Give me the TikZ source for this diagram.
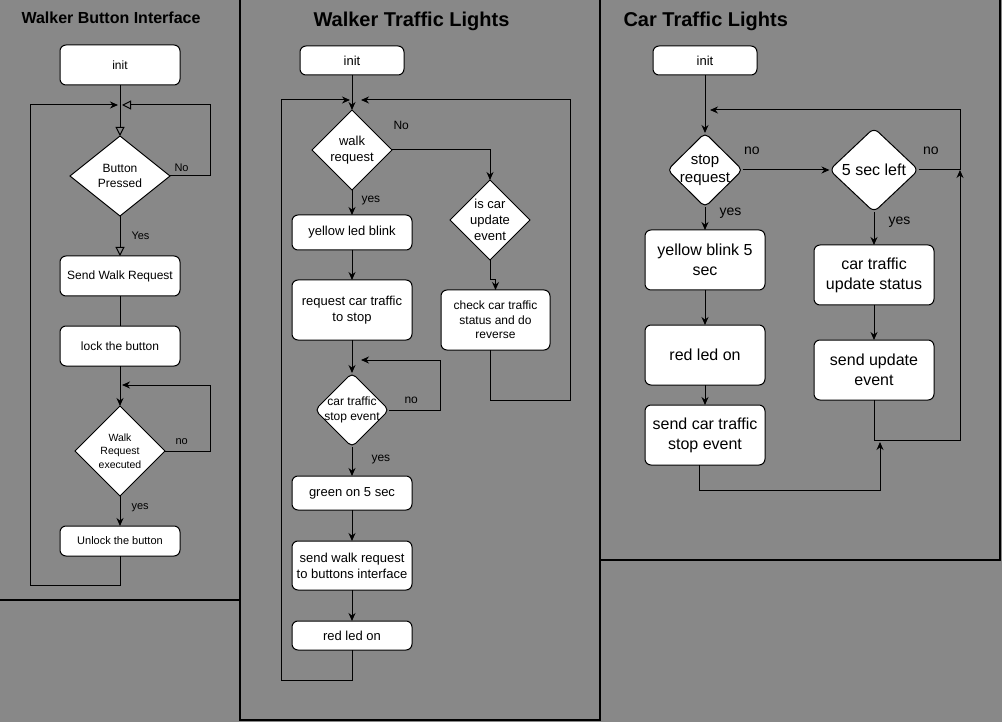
\documentclass[tikz,border=0pt]{standalone}
\usepackage{fontspec}
\setmainfont{Liberation Sans}
\usetikzlibrary{shapes, arrows.meta, positioning}
\definecolor{lanegray}{RGB}{136,136,136}
\newcommand{\fsz}[2]{\fontsize{#1}{#2}\selectfont}

\begin{document}
\begin{tikzpicture}[
    x=1pt, y=-1pt, line width=1pt,
    node distance=30pt,
    box/.style={draw, rectangle, fill=white, rounded corners=6pt, minimum width=120pt, minimum height=40pt, align=center, inner sep=2pt, outer sep=0pt, font=\fsz{12}{14}},
    decision/.style={draw, diamond, aspect=1, fill=white, align=center, inner sep=0pt, outer sep=0pt, font=\fsz{12}{15}},
    arrow/.style={-{Stealth[length=8pt,width=7pt]}},
    openarrow/.style={-{Triangle[open,length=9pt,width=9pt]}},
    note/.style={inner sep=0pt, align=center, font=\fsz{12}{14}},
    lanetitle/.style={anchor=west, inner sep=0pt, font=\bfseries\fsz{20}{24}},
    lane/.style={line width=1.5pt}
]

\fill[lanegray] (0,0) rectangle (1002,722);
\useasboundingbox (0,0) rectangle (1002,722);

% lanes
\draw[lane] (240,0) -- (240,720) -- (600,720) -- (600,0);
\draw[lane] (0,600) -- (240,600);
\draw[lane] (600,560) -- (1000,560) -- (1000,0);

\node[lanetitle, font=\bfseries\fsz{16}{19}] (tbutton) at (21,18) {Walker Button Interface};
\node[lanetitle] (twalker) at (313,21) {Walker Traffic Lights};
\node[lanetitle] (tcar) at (623,21) {Car Traffic Lights};

% walker button interface
\node[box] (binit) at (120,65) {init};
\node[decision, minimum width=100pt, minimum height=80pt, below=51pt of binit] (bpress) {Button\\Pressed};
\node[box, below=40pt of bpress] (bsend) {Send Walk Request};
\node[box, below=30pt of bsend] (block) {lock the button};
\node[decision, minimum width=90pt, minimum height=90pt, font=\fsz{10.5}{13.5}, below=40pt of block] (bexec) {Walk\\Request\\executed};
\node[box, minimum height=30pt, font=\fsz{11}{13}, below=30pt of bexec] (bunlock) {Unlock the button};

\coordinate (bjoin) at (120,105);
\coordinate (bjoin2) at (120,385);
\coordinate (bback) at (30,585);

\draw[openarrow] (binit) -- (bpress);
\draw[openarrow] (bpress.east) -- ++(40,0) |- ([xshift=2pt]bjoin);
\draw[openarrow] (bpress) -- (bsend);
\draw (bsend) -- (block);
\draw[arrow] (block) -- (bexec);
\draw[arrow] (bexec.east) -- ++(45,0) |- ([xshift=2pt]bjoin2);
\draw[arrow] (bexec) -- (bunlock);
\draw[arrow] (bunlock) |- (bback) |- ([xshift=-2pt]bjoin);

\node[note, font=\fsz{11}{13}, above right=4pt and 4pt of bpress.east] (bno) {No};
\node[note, font=\fsz{11}{13}, below right=15pt and 11pt of bpress.south] (byes) {Yes};
\node[note, font=\fsz{11}{13}, above right=6pt and 10pt of bexec.east] (bno2) {no};
\node[note, font=\fsz{11}{13}, below right=7pt and 11pt of bexec.south] (byes2) {yes};

% walker traffic lights
\node[box, minimum width=104pt, minimum height=29pt, font=\fsz{13}{16}] (winit) at (352,60.5) {init};
\node[decision, minimum width=80pt, minimum height=80pt, font=\fsz{13}{16}, below=35pt of winit] (wreq) {walk\\request};
\node[box, minimum height=35pt, font=\fsz{13}{16}, below=25pt of wreq] (wyellow) {yellow led blink};
\node[box, minimum height=60pt, font=\fsz{13}{16}, below=30pt of wyellow] (wstop) {request car traffic\\to stop};
\node[decision, rounded corners=5pt, minimum width=74pt, minimum height=74pt, inner sep=-4pt, below=33pt of wstop] (wcarstop) {car traffic\\stop event};
\node[box, minimum height=34pt, font=\fsz{13}{16}, below=29pt of wcarstop] (wgreen) {green on 5 sec};
\node[box, minimum height=49pt, font=\fsz{13}{16}, below=31pt of wgreen] (wsend) {send walk request\\to buttons interface};
\node[box, minimum height=29pt, font=\fsz{13}{16}, below=31pt of wsend] (wred) {red led on};
\node[decision, minimum width=80pt, minimum height=80pt, inner sep=-2pt, font=\fsz{13}{16}] (wupd) at (490,220) {is car\\update\\event};
\node[box, minimum width=109pt, minimum height=60pt, font=\fsz{12}{14.5}] (wcheck) at (495.5,320) {check car traffic\\status and do\\reverse};

\coordinate (wjoin) at (352,100);
\coordinate (wjoin2) at (352,360);
\coordinate (wbackl) at (281,680);
\coordinate (wbackr) at (570,400);

\draw[arrow] (winit) -- (wreq);
\foreach \from/\to in {wreq/wyellow, wyellow/wstop, wstop/wcarstop, wcarstop/wgreen, wgreen/wsend, wsend/wred}
    \draw[arrow] (\from) -- (\to);
\draw[arrow] (wreq.east) -| (wupd.north);
\draw[arrow] (wupd.south) -- ++(0,20) -| (wcheck.north);
\draw[arrow] ([xshift=-5pt]wcheck.south) |- (wbackr) |- ([xshift=9pt]wjoin);
\draw[arrow] (wred) |- (wbackl) |- ([xshift=-2pt]wjoin);
\draw[arrow] (wcarstop.east) -- ++(51,0) |- ([xshift=9pt]wjoin2);

\node[note, above right=20pt and 1pt of wreq.east] (wno) {No};
\node[note, below right=6pt and 9pt of wreq.south] (wyes) {yes};
\node[note, above right=6pt and 15pt of wcarstop.east] (wno2) {no};
\node[note, below right=8pt and 19pt of wcarstop.south] (wyes2) {yes};

% car traffic lights
\node[box, minimum width=104pt, minimum height=29pt, font=\fsz{13}{16}] (cinit) at (705,60.5) {init};
\node[decision, rounded corners=5pt, minimum width=75pt, minimum height=74pt, inner sep=-4pt, font=\fsz{15}{18}, below=58pt of cinit] (cstop) {stop\\request};
\node[box, minimum height=60pt, font=\fsz{16}{20}, below=23pt of cstop] (cyellow) {yellow blink 5\\sec};
\node[box, minimum height=60pt, font=\fsz{16}{20}, below=35pt of cyellow] (cred) {red led on};
\node[box, minimum height=60pt, font=\fsz{16}{20}, below=20pt of cred] (csend) {send car traffic\\stop event};
\node[decision, rounded corners=6pt, minimum width=89pt, minimum height=84pt, font=\fsz{16}{20}, right=87pt of cstop] (cfive) {5 sec left};
\node[box, minimum height=60pt, font=\fsz{16}{20}, below=33pt of cfive] (cupd) {car traffic\\update status};
\node[box, minimum height=60pt, font=\fsz{16}{20}, below=35pt of cupd] (csendupd) {send update\\event};

\coordinate (cjoin) at (705,110);
\coordinate (cright) at (960,170);
\coordinate (cbackr) at (960,440);
\coordinate (cmerge) at (880,442);
\coordinate (cbottom) at (880,490);

\draw[arrow] (cinit) -- (cstop);
\foreach \from/\to in {cstop/cfive, cstop/cyellow, cyellow/cred, cred/csend, cfive/cupd, cupd/csendupd}
    \draw[arrow] (\from) -- (\to);
\draw (cfive) -- (cright);
\draw[arrow] (csendupd) |- (cbackr) -- (cright);
\draw[arrow] (cright) |- ([xshift=5pt]cjoin);
\draw[arrow] ([xshift=-6pt]csend.south) |- (cbottom) -- (cmerge);

\node[note, font=\fsz{14}{17}, above right=15pt and 1pt of cstop.east] (cno) {no};
\node[note, font=\fsz{14}{17}, below right=0pt and 14pt of cstop.south] (cyes) {yes};
\node[note, font=\fsz{14}{17}, above right=15pt and 4pt of cfive.east] (cno2) {no};
\node[note, font=\fsz{14}{17}, below right=4pt and 14pt of cfive.south] (cyes2) {yes};

\end{tikzpicture}
\end{document}
